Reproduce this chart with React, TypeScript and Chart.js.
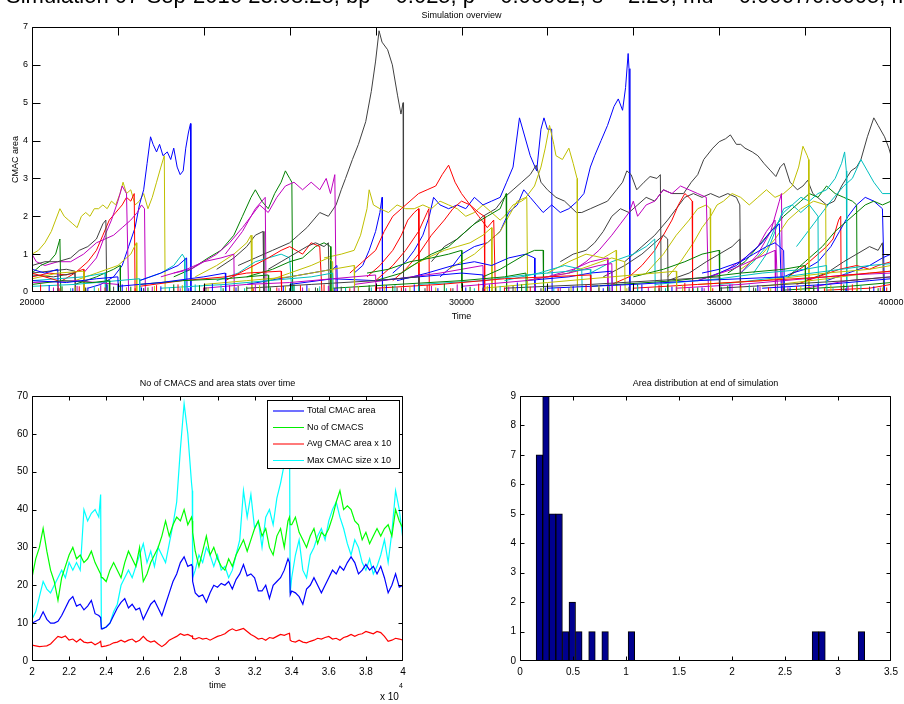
import React, { useEffect, useRef } from 'react';
import { Chart, registerables } from 'chart.js';
Chart.register(...registerables);

const FONT = '"Liberation Sans", Arial, Helvetica, sans-serif';
const W = 904;
const H = 704;

// ---------- colours (MATLAB default line order) ----------
const COL: Record<string, string> = {
  b: '#0000ff', g: '#008000', r: '#ff0000', c: '#00bfbf', m: '#bf00bf', y: '#bfbf00', k: '#404040',
};

// ---------- top panel: CMAC area trajectories [time, area] ----------
const trY1 = [[20000,1.0],[20150,1.1],[20300,1.3],[20450,1.6],[20550,1.9],[20650,2.2],[20750,2.0],[20850,1.9],[20950,1.8],[21050,1.7],[21150,2.0],[21250,2.1],[21350,2.0],[21450,2.2],[21550,2.2],[21650,2.3],[21750,2.2],[21850,2.4],[21950,2.3],[22050,2.6],[22120,2.9],[22200,2.6],[22300,2.7],[22400,2.3],[22500,2.4],[22600,2.6],[22700,2.2],[22800,2.5],[22900,2.9],[23000,3.3],[23080,3.6],[23100,0]];
const trB1 = [[21300,0.1],[21600,0.2],[21900,0.4],[22100,0.7],[22250,1.2],[22400,1.7],[22500,2.3],[22600,2.7],[22680,3.4],[22760,4.1],[22820,3.9],[22900,3.7],[22970,3.9],[23050,3.6],[23150,3.7],[23230,3.5],[23300,3.8],[23380,3.3],[23450,3.1],[23520,3.2],[23580,3.8],[23640,4.2],[23690,4.45],[23700,0]];
const trR1 = [[20700,0.3],[21000,0.5],[21300,0.8],[21500,1.1],[21650,1.5],[21800,1.9],[21950,2.1],[22100,2.3],[22200,2.5],[22300,2.4],[22380,2.6],[22400,0]];
const trM1 = [[20000,1.0],[20100,0.8],[20300,0.7],[20600,0.8],[20900,0.8],[21200,1.0],[21500,1.3],[21700,1.4],[21900,1.5],[22100,1.7],[22300,1.9],[22450,2.1],[22550,2.3],[22620,2.2],[22640,0]];
const trM2 = [[21200,0.5],[21500,0.9],[21700,1.5],[21850,1.9],[22000,2.4],[22100,2.8],[22200,2.6],[22250,0]];
const trK1 = [[20000,0.7],[20300,0.8],[20600,0.8],[20900,0.9],[21100,1.1],[21300,1.2],[21500,1.4],[21650,1.8],[21720,1.9],[21740,0]];
const trG1 = [[20000,0.5],[20200,0.7],[20400,0.8],[20550,1.0],[20650,1.4],[20670,0]];
const trG2 = [[23300,0.4],[23700,0.6],[24100,0.9],[24400,1.1],[24700,1.5],[24900,2.0],[25100,2.5],[25200,2.7],[25350,2.4],[25500,2.2],[25650,2.6],[25800,2.9],[25900,3.2],[26000,3.0],[26050,2.9],[26070,0]];
const trM3 = [[23300,0.5],[23700,0.6],[24000,0.8],[24300,1.0],[24600,1.3],[24900,1.7],[25100,2.0],[25300,2.3],[25500,2.1],[25700,2.5],[25900,2.8],[26100,2.9],[26300,2.7],[26500,2.9],[26700,2.7],[26850,3.0],[26950,2.6],[27050,3.1],[27080,0]];
const trM4 = [[24500,1.0],[24900,1.6],[25200,2.2],[25430,2.5],[25450,0]];
const trK2 = [[24800,0.7],[25200,0.9],[25600,1.1],[26000,1.3],[26200,1.5],[26400,1.7],[26700,2.1],[26900,2.0],[27080,2.3],[27200,2.7],[27300,3.0],[27460,3.5],[27600,3.9],[27770,4.5],[27900,5.3],[28000,6.1],[28080,6.9],[28150,6.6],[28280,6.4],[28390,6.0],[28510,5.2],[28590,4.7],[28640,5.0],[28650,0]];
const trK3 = [[24300,0.6],[24700,0.9],[25000,1.2],[25200,1.5],[25380,1.6],[25400,0]];
const trY2 = [[26800,0.9],[27200,1.0],[27500,1.1],[27650,1.5],[27800,2.2],[27850,2.7],[27950,2.3],[28100,2.2],[28300,2.1],[28500,2.3],[28700,2.2],[28900,2.2],[29100,2.3],[29300,2.2],[29500,2.4],[29700,2.3],[29900,2.2],[30100,2.0],[30300,2.1],[30500,2.3],[30700,2.1],[30900,1.9],[31000,2.0],[31200,2.3],[31400,2.4],[31520,2.5],[31540,0]];
const trY3 = [[29700,0.6],[30000,0.8],[30300,1.0],[30600,1.3],[30900,1.6],[31100,2.0],[31300,2.4],[31500,2.5],[31700,2.8],[31850,3.3],[31950,3.8],[32050,4.4],[32150,3.9],[32200,3.6],[32350,3.5],[32500,3.8],[32600,3.4],[32690,3.0],[32700,0]];
const trB2 = [[28400,0.5],[28700,0.8],[28900,1.1],[29100,1.5],[29250,2.0],[29350,2.5],[29500,2.3],[29700,2.2],[29900,2.3],[30100,2.2],[30300,2.5],[30500,2.3],[30700,2.4],[30900,2.5],[31050,2.9],[31200,3.3],[31350,4.6],[31450,4.2],[31600,3.6],[31750,3.2],[31850,4.3],[31920,4.6],[32000,4.3],[32100,4.3],[32110,0]];
const trB3 = [[27500,0.5],[27700,0.7],[27850,1.1],[28000,1.6],[28100,2.1],[28150,2.5],[28160,0]];
const trB4 = [[29500,0.4],[29800,0.7],[30000,1.0],[30300,1.2],[30600,1.3],[30900,1.6],[31100,2.1],[31300,2.3],[31450,2.7],[31600,2.5],[31750,2.3],[31900,2.1],[32100,2.3],[32300,2.1],[32500,2.2],[32700,2.4],[32850,2.6],[33000,3.3],[33100,3.6],[33250,4.0],[33400,4.4],[33550,4.9],[33650,5.1],[33750,4.8],[33820,5.4],[33880,6.3],[33900,5.9],[33920,0]];
const trK4 = [[29300,0.8],[29600,1.2],[29900,1.4],[30200,1.7],[30500,2.0],[30800,2.2],[31000,2.5],[31200,2.7],[31400,2.9],[31600,3.1],[31740,3.35],[31850,2.9],[32000,2.7],[32200,2.5],[32400,2.4],[32675,2.1],[32800,2.1],[33000,2.2],[33200,2.3],[33400,2.4],[33610,2.7],[33750,2.9],[33850,3.2],[33950,3.1],[34080,2.7],[34250,2.9],[34390,3.05],[34550,3.0],[34630,3.1],[34650,0]];
const trK5 = [[32300,0.8],[32600,1.0],[32900,1.1],[33100,1.3],[33300,1.6],[33500,2.0],[33700,2.2],[33900,2.1],[34100,2.3],[34300,2.5],[34500,2.4],[34700,2.7],[34900,2.6],[35170,2.6],[35350,2.9],[35500,3.1],[35640,3.5],[35850,3.8],[36000,3.97],[36150,4.05],[36260,4.15],[36400,3.9],[36500,3.9],[36600,3.8],[36770,3.7],[36900,3.6],[37040,3.4],[37200,3.2],[37320,3.05],[37420,3.3],[37510,3.4],[37650,2.9],[37820,2.7],[37950,2.8],[38060,2.95],[38180,2.6],[38290,2.5],[38500,2.3],[38680,2.4],[38850,2.8],[39070,3.2],[39200,3.3],[39300,3.5],[39450,4.1],[39600,4.6],[39700,4.4],[39850,4.1],[39950,3.8],[40000,3.6]];
const trK6 = [[33800,0.8],[34200,1.2],[34500,1.5],[34800,1.9],[35000,2.2],[35200,2.5],[35400,2.6],[35600,2.5],[35800,2.6],[36000,2.5],[36200,2.6],[36400,2.5],[36480,2.3],[36500,0]];
const trK7 = [[38000,0.3],[38500,0.5],[38900,0.8],[39200,1.0],[39500,1.2],[39700,1.1],[39800,1.3],[39830,0]];
const trM5 = [[32500,0.5],[32900,0.8],[33200,1.1],[33500,1.5],[33700,1.8],[33900,2.1],[34000,2.4],[34100,2.0],[34300,2.3],[34500,2.4],[34700,2.7],[34900,2.6],[35100,2.8],[35300,2.7],[35500,2.6],[35700,2.5],[35750,0]];
const trR2 = [[33500,0.2],[33900,0.4],[34200,0.7],[34500,1.1],[34700,1.5],[34900,1.9],[35050,2.3],[35200,2.6],[35300,2.5],[35370,2.4],[35380,0]];
const trY4 = [[34800,0.4],[35100,0.8],[35400,1.3],[35600,1.7],[35800,2.0],[35950,2.3],[36100,2.4],[36300,2.6],[36500,2.5],[36700,2.3],[36900,2.5],[37100,2.7],[37300,2.5],[37500,2.6],[37700,2.8],[37850,3.3],[37950,3.85],[38050,3.6],[38080,3.5],[38090,0]];
const trY5 = [[34300,0.5],[34700,1.0],[35000,1.5],[35300,1.9],[35500,2.2],[35700,2.3],[35790,2.2],[35800,0]];
const trC1 = [[36500,0.5],[36800,0.8],[37100,1.2],[37300,1.7],[37500,2.1],[37700,2.3],[37900,2.5],[38100,2.4],[38300,2.6],[38500,2.7],[38700,3.0],[38850,3.4],[38920,3.7],[38960,3.2],[38970,0]];
const trC2 = [[37800,1.2],[38200,1.8],[38600,2.4],[38900,2.8],[39100,3.0],[39300,3.5],[39450,3.2],[39600,2.9],[39800,2.6],[40000,2.6]];
const trG3 = [[36200,0.5],[36600,0.8],[36900,1.2],[37200,1.6],[37500,2.0],[37700,2.2],[37900,2.4],[38100,2.6],[38300,2.5],[38500,2.8],[38700,2.6],[38900,2.5],[39100,2.4],[39200,2.3],[39210,0]];
const trG4 = [[37600,0.4],[38000,0.8],[38400,1.2],[38700,1.6],[39000,1.9],[39200,2.1],[39400,2.3],[39600,2.4],[39800,2.3],[40000,2.4]];
const trB5 = [[37300,0.3],[37700,0.5],[38000,0.6],[38300,0.8],[38600,1.2],[38800,1.6],[39000,2.0],[39200,2.3],[39400,2.5],[39600,2.4],[39800,2.2],[39850,0]];
const trB6 = [[38500,0.3],[39000,0.5],[39500,0.7],[39800,0.9],[40000,1.0]];
const trR3 = [[37600,0.4],[38000,0.7],[38300,1.0],[38500,1.2],[38650,1.4],[38780,1.9],[38830,2.0],[38840,0]];
const trR4 = [[27400,0.5],[27700,0.8],[28000,1.1],[28200,1.6],[28400,2.0],[28600,2.2],[28800,2.4],[29000,2.6],[29200,2.7],[29400,2.8],[29550,3.1],[29700,3.35],[29850,2.9],[30000,2.6],[30200,2.3],[30400,2.0],[30600,1.7],[30750,1.9],[30790,0]];
const trR5 = [[27800,0.4],[28100,0.7],[28400,1.1],[28600,1.5],[28750,1.9],[28900,2.1],[29000,2.2],[29010,0]];
const trR6 = [[28400,0.3],[28700,0.6],[29000,1.0],[29300,1.5],[29600,1.9],[29800,2.2],[30000,2.4],[30200,2.3],[30400,2.1],[30530,2.0],[30540,0]];
const trR7 = [[28000,0.3],[28400,0.7],[28700,1.1],[29000,1.6],[29200,2.1],[29240,2.2],[29250,0]];
const trK8 = [[25500,0.6],[25800,0.8],[26100,1.0],[26400,1.2],[26600,1.3],[26800,1.2],[26900,1.3],[26920,0]];
const trR8 = [[24500,0.3],[25000,0.6],[25500,0.9],[25800,1.1],[26000,1.2],[26300,1.0],[26500,1.3],[26700,1.2],[26750,0]];
const trG5 = [[25000,0.4],[25600,0.6],[26000,0.8],[26300,0.9],[26600,1.2],[26800,1.3],[26950,1.2],[26960,0]];
const trC3 = [[22500,0.3],[23000,0.5],[23300,0.7],[23500,1.0],[23550,0.9],[23560,0]];
const trC4 = [[24300,0.3],[24800,0.5],[25200,0.8],[25500,0.9],[25800,1.0],[26000,0.9],[26050,0]];
const trY6 = [[21000,0.3],[21500,0.5],[22000,0.7],[22300,1.0],[22430,1.3],[22440,0]];
const trY7 = [[23800,0.4],[24300,0.7],[24700,1.0],[25000,1.3],[25100,1.5],[25120,0]];
const trG6 = [[21000,0.2],[21500,0.4],[21900,0.6],[22050,0.7],[22060,0]];
const trG7 = [[28000,0.3],[28600,0.5],[29000,0.8],[29300,1.0],[29700,1.2],[30000,1.5],[30300,1.8],[30600,2.0],[30900,2.2],[31040,2.6],[31050,0]];
const trG8 = [[30500,0.4],[30900,0.6],[31200,0.8],[31500,1.0],[31700,1.1],[31900,1.1],[31910,0]];
const trB7 = [[28500,0.3],[29200,0.5],[29800,0.7],[30300,0.8],[30700,0.7],[31100,0.9],[31500,1.0],[31700,0.9],[31710,0]];
const trY8 = [[28700,0.6],[29200,0.9],[29600,1.1],[29900,1.2],[30200,1.3],[30500,1.5],[30700,1.7],[30710,0]];
const trC5 = [[33000,0.5],[33500,0.8],[34000,1.0],[34300,1.2],[34500,1.4],[34510,0]];
const trK10 = [[33300,0.4],[33800,0.7],[34200,1.0],[34500,1.3],[34700,1.5],[34800,1.4],[34810,0]];
const trK11 = [[34800,0.3],[35300,0.5],[35700,0.8],[36000,1.0],[36300,1.2],[36480,1.4],[36490,0]];
const trB8 = [[35500,0.3],[36000,0.5],[36400,0.7],[36700,1.0],[37000,1.3],[37200,1.6],[37400,1.8],[37450,0]];
const trB9 = [[35600,0.5],[36000,0.6],[36500,0.8],[36800,1.0],[37100,1.2],[37300,1.3],[37500,1.1],[37520,0]];
const trM6 = [[35800,0.4],[36200,0.6],[36600,0.9],[36900,1.2],[37100,1.6],[37300,1.9],[37360,0]];
const trY9 = [[36500,0.6],[37000,1.0],[37300,1.4],[37600,1.9],[37900,2.2],[38200,2.4],[38480,2.3],[38490,0]];
const trC6 = [[36800,0.5],[37100,1.0],[37300,1.6],[37500,2.2],[37700,2.3],[37900,2.1],[38100,2.3],[38300,2.0],[38310,0]];
const trM7 = [[36500,0.5],[36900,1.0],[37200,1.6],[37400,2.4],[37450,2.6],[37470,0]];
const trR9 = [[37800,0.2],[38300,0.4],[38800,0.6],[39200,0.7],[39500,0.6],[39700,0.7],[40000,0.8]];
const trY11 = [[31500,0.3],[32500,0.5],[33000,0.7],[33500,0.9],[33800,0.8],[33810,0]];
const trC7 = [[31000,0.3],[31800,0.5],[32400,0.7],[32800,0.6],[32810,0]];
const trB10 = [[31500,0.3],[32500,0.4],[33000,0.5],[33500,0.55],[33510,0]];
const trM8 = [[32000,0.4],[32600,0.6],[33000,0.8],[33400,0.9],[33410,0]];
const trY12 = [[32000,0.5],[32500,0.8],[32900,1.0],[33300,0.9],[33600,1.1],[33610,0]];
const trG12 = [[34000,0.4],[34700,0.6],[35200,0.8],[35600,1.0],[36000,1.1],[36010,0]];
const trM9 = [[35500,0.3],[36300,0.6],[36900,0.9],[37300,1.1],[37310,0]];
const trB11 = [[20000,0.6],[20300,0.5],[20600,0.6],[20610,0]];
const trR10 = [[20000,0.4],[20400,0.5],[20800,0.45],[21200,0.6],[21210,0]];
const trC10 = [[20000,0.3],[20600,0.35],[21200,0.4],[21700,0.5],[21710,0]];
const trK12 = [[20000,0.5],[20400,0.55],[20800,0.6],[21000,0.55],[21010,0]];
const trB12 = [[22500,0.3],[23000,0.5],[23400,0.7],[23600,0.9],[23610,0]];
const trM10 = [[23000,0.4],[23600,0.6],[24000,0.8],[24400,0.9],[24700,1.0],[24710,0]];
const trY14 = [[25500,0.3],[26000,0.5],[26500,0.7],[26900,0.9],[27000,0.8],[27010,0]];
const trB13 = [[25000,0.2],[26000,0.4],[26500,0.5],[27000,0.6],[27100,0.7],[27110,0]];
const trG15 = [[27800,0.5],[28300,0.6],[28800,0.8],[29300,0.9],[29700,1.0],[30000,1.1],[30010,0]];
const trM11 = [[27500,0.2],[28500,0.35],[29500,0.5],[30000,0.6],[30500,0.7],[30510,0]];
// low-level crowd
const trL1 = [[20000,0.3],[20800,0.25],[21500,0.35],[22000,0.4],[22010,0]];
const trL2 = [[20000,0.2],[20700,0.3],[21400,0.25],[21800,0.3],[21810,0]];
const trL3 = [[20000,0.5],[20300,0.4],[20600,0.3],[20610,0]];
const trL4 = [[20000,0.15],[21000,0.2],[22000,0.3],[22500,0.35],[22510,0]];
const trL5 = [[20000,0.25],[21000,0.3],[22000,0.2],[22010,0]];
const trL6 = [[20000,0.35],[20600,0.5],[21200,0.55],[21210,0]];
const trL7 = [[20000,0.45],[20500,0.4],[21000,0.5],[21010,0]];
const trL8 = [[22000,0.15],[23000,0.25],[24000,0.4],[24500,0.5],[24510,0]];
const trL9 = [[22500,0.2],[23500,0.3],[24500,0.35],[25500,0.45],[25510,0]];
const trL10 = [[22500,0.15],[23500,0.3],[24500,0.4],[25000,0.5],[25800,0.55],[25810,0]];
const trL11 = [[23000,0.1],[24500,0.2],[25500,0.3],[26500,0.4],[27000,0.5],[27010,0]];
const trL12 = [[24000,0.1],[25000,0.2],[26000,0.25],[27000,0.35],[28000,0.45],[28010,0]];
const trL13 = [[24000,0.2],[25000,0.3],[26000,0.4],[27000,0.6],[27500,0.7],[27510,0]];
const trL14 = [[25000,0.1],[26500,0.2],[28000,0.3],[29000,0.4],[29010,0]];
const trL15 = [[26000,0.2],[27000,0.35],[28000,0.3],[29000,0.4],[30000,0.5],[30500,0.45],[30510,0]];
const trL16 = [[27000,0.1],[28500,0.2],[30000,0.3],[31000,0.4],[31500,0.5],[31510,0]];
const trL17 = [[28000,0.1],[29500,0.2],[31000,0.35],[32000,0.4],[33000,0.45],[33010,0]];
const trL18 = [[29000,0.2],[30500,0.3],[31500,0.45],[32500,0.55],[33000,0.6],[33010,0]];
const trL19 = [[30000,0.15],[31500,0.3],[32500,0.5],[33200,0.7],[33500,0.75],[33510,0]];
const trL20 = [[30500,0.1],[32000,0.25],[33500,0.4],[34500,0.5],[35000,0.55],[35010,0]];
const trL21 = [[31000,0.1],[33000,0.2],[34500,0.3],[36000,0.4],[36010,0]];
const trL22 = [[32000,0.1],[34000,0.2],[35500,0.3],[36500,0.35],[37500,0.4],[37510,0]];
const trL23 = [[33000,0.15],[35000,0.3],[36500,0.5],[37500,0.6],[38000,0.7],[38010,0]];
const trL24 = [[34000,0.1],[35500,0.2],[37000,0.3],[38500,0.4],[39500,0.5],[40000,0.55]];
const trL25 = [[34500,0.2],[36000,0.35],[37000,0.5],[38000,0.6],[38500,0.7],[38510,0]];
const trL26 = [[35000,0.1],[36500,0.2],[38000,0.35],[39000,0.45],[40000,0.5]];
const trL27 = [[35500,0.2],[37000,0.3],[38500,0.5],[39500,0.6],[40000,0.7]];
const trL28 = [[36000,0.1],[37500,0.2],[39000,0.3],[40000,0.4]];
const trL29 = [[37000,0.1],[38500,0.2],[39500,0.3],[40000,0.35]];
const trL30 = [[37500,0.05],[39000,0.15],[40000,0.25]];
const trL31 = [[38500,0.05],[39500,0.1],[40000,0.2]];
const trL32 = [[36000,0.2],[37500,0.4],[38500,0.55],[39500,0.7],[40000,0.75]];
const trL33 = [[38000,0.1],[39000,0.3],[40000,0.4]];
const trL34 = [[37000,0.15],[38500,0.35],[39500,0.5],[40000,0.55]];

const topTracks = [
  trL1, trL2, trL3, trL4, trL5, trL6, trL7, trL8, trL9, trL10, trL11, trL12, trL13, trL14, trL15, trL16, trL17,
  trL18, trL19, trL20, trL21, trL22, trL23, trL24, trL25, trL26, trL27, trL28, trL29, trL30, trL31, trL32, trL33, trL34,
  trB11, trR10, trC10, trK12, trB12, trM10, trY14, trB13, trG15, trM11, trY11, trC7, trB10, trM8, trY12, trG12, trM9,
  trC5, trK10, trK11, trB8, trB9, trM6, trY9, trC6, trM7, trR9, trK8, trR8, trG5, trC3, trC4, trY6, trY7, trG6, trG7,
  trG8, trB7, trY8, trR4, trR5, trR6, trR7, trK7, trM5, trR2, trY4, trY5, trC1, trC2, trG3, trG4, trB5, trB6, trR3,
  trY2, trY3, trB3, trK3, trK4, trK5, trK6, trB2, trB4, trM4, trM3, trG2, trK2, trK1, trG1, trM2, trM1, trR1, trB1, trY1,
];
const topTrackColors = [
  'b', 'g', 'r', 'c', 'm', 'y', 'k', 'b', 'g', 'r', 'c', 'm', 'y', 'k', 'b', 'g', 'r',
  'c', 'm', 'y', 'k', 'b', 'g', 'r', 'c', 'm', 'y', 'k', 'b', 'g', 'r', 'c', 'm', 'y',
  'b', 'r', 'c', 'k', 'b', 'm', 'y', 'b', 'g', 'm', 'y', 'c', 'b', 'm', 'y', 'g', 'm',
  'c', 'k', 'k', 'b', 'b', 'm', 'y', 'c', 'm', 'r', 'k', 'r', 'g', 'c', 'c', 'y', 'y', 'g', 'g',
  'g', 'b', 'y', 'r', 'r', 'r', 'r', 'k', 'm', 'r', 'y', 'y', 'c', 'c', 'g', 'g', 'b', 'b', 'r',
  'y', 'y', 'b', 'k', 'k', 'k', 'k', 'b', 'b', 'm', 'm', 'g', 'k', 'k', 'g', 'm', 'm', 'r', 'b', 'y',
];

// tiny short-lived CMACs along the baseline [time, area]
const spikesB = [[20400,0.18],[20950,0.1],[21300,0.12],[21750,0.2],[22100,0.2],[22550,0.12],[23000,0.15],[23650,0.1],[24200,0.22],[24750,0.12],[25300,0.1],[25850,0.16],[26400,0.18],[27050,0.1],[27600,0.14],[28250,0.18],[28900,0.2],[29450,0.1],[30100,0.12],[30650,0.2],[31300,0.25],[31950,0.12],[32600,0.15],[33300,0.1],[34200,0.2],[34900,0.14],[35600,0.12],[36250,0.2],[36900,0.18],[37650,0.12],[38300,0.22],[38950,0.1],[39600,0.15]];
const spikesG = [[20700,0.15],[21250,0.1],[21800,0.2],[22300,0.14],[22700,0.12],[23300,0.2],[23900,0.18],[24450,0.1],[25000,0.14],[25550,0.12],[26100,0.2],[26650,0.1],[27300,0.1],[27850,0.18],[28400,0.16],[29000,0.1],[29600,0.22],[30200,0.14],[30800,0.12],[31400,0.2],[32000,0.18],[32700,0.1],[33400,0.14],[34100,0.2],[34800,0.2],[35500,0.12],[36200,0.16],[36850,0.1],[37500,0.12],[38200,0.18],[38900,0.2],[39700,0.1]];
const spikesR = [[20200,0.2],[20650,0.1],[21100,0.15],[21700,0.12],[22400,0.1],[22900,0.18],[23400,0.2],[24000,0.12],[24600,0.16],[25150,0.1],[25700,0.12],[26250,0.18],[26800,0.2],[27400,0.1],[28000,0.15],[28600,0.12],[29200,0.18],[29750,0.1],[30400,0.22],[31000,0.12],[31600,0.14],[32250,0.1],[32900,0.2],[33450,0.12],[34000,0.12],[34600,0.18],[35200,0.24],[35850,0.1],[36500,0.18],[37150,0.12],[37800,0.15],[38450,0.1],[39100,0.2],[39900,0.12]];
const spikesC = [[20900,0.1],[21450,0.16],[22000,0.15],[22600,0.1],[23200,0.12],[23800,0.2],[24400,0.18],[24950,0.1],[25500,0.1],[26100,0.16],[26700,0.15],[27300,0.12],[27900,0.12],[28450,0.18],[29000,0.16],[29650,0.1],[30300,0.1],[30900,0.16],[31500,0.2],[32150,0.12],[32800,0.12],[33450,0.16],[34100,0.16],[34750,0.1],[35400,0.1],[36050,0.14],[36700,0.2],[37350,0.12],[38000,0.14],[38650,0.1],[39300,0.18]];
const spikesM = [[20500,0.12],[21050,0.16],[21600,0.18],[22200,0.12],[22800,0.14],[23450,0.1],[24000,0.1],[24600,0.18],[25200,0.2],[25750,0.1],[26300,0.12],[26900,0.16],[27500,0.16],[28100,0.12],[28700,0.1],[29300,0.16],[29900,0.2],[30500,0.1],[31100,0.14],[31700,0.18],[32300,0.12],[33000,0.14],[33700,0.18],[34350,0.12],[35000,0.14],[35650,0.1],[36300,0.2],[36950,0.14],[37600,0.12],[38300,0.16],[39000,0.16],[39750,0.12]];
const spikesY = [[21000,0.14],[21550,0.1],[22200,0.1],[22850,0.16],[23500,0.18],[24100,0.12],[24700,0.12],[25300,0.18],[25900,0.16],[26450,0.1],[27000,0.1],[27600,0.16],[28200,0.2],[28800,0.14],[29400,0.12],[30000,0.1],[30600,0.16],[31250,0.12],[31900,0.1],[32550,0.16],[33200,0.18],[33850,0.1],[34500,0.12],[35150,0.18],[35800,0.16],[36500,0.12],[37200,0.1],[37900,0.16],[38600,0.18],[39200,0.1],[39800,0.12]];
const spikesK = [[20600,0.1],[21250,0.12],[21900,0.14],[22600,0.1],[23300,0.1],[24050,0.12],[24800,0.16],[25400,0.1],[26000,0.1],[26600,0.12],[27200,0.14],[27850,0.1],[28500,0.12],[29150,0.1],[29800,0.1],[30500,0.12],[31200,0.16],[31850,0.1],[32500,0.1],[33200,0.12],[33900,0.14],[34600,0.1],[35300,0.1],[36050,0.12],[36800,0.12],[37500,0.1],[38200,0.1],[38850,0.12],[39500,0.14]];
const spikeSets = [spikesB, spikesG, spikesR, spikesC, spikesM, spikesY, spikesK];
const spikeColors = ['b', 'g', 'r', 'c', 'm', 'y', 'k'];

const topXTicks = [20000, 22000, 24000, 26000, 28000, 30000, 32000, 34000, 36000, 38000, 40000];
const topXLabels = ['20000', '22000', '24000', '26000', '28000', '30000', '32000', '34000', '36000', '38000', '40000'];
const topYTicks = [0, 1, 2, 3, 4, 5, 6, 7];
const topYLabels = ['0', '1', '2', '3', '4', '5', '6', '7'];

// ---------- bottom-left: stats over time (time in units of 10^4) ----------
const tStats = [
  2.00, 2.02, 2.04, 2.06, 2.08, 2.10, 2.12, 2.14, 2.16, 2.18,
  2.20, 2.22, 2.24, 2.26, 2.28, 2.30, 2.32, 2.34, 2.36, 2.37,
  2.374, 2.38, 2.40, 2.42, 2.44, 2.46, 2.48, 2.50, 2.52, 2.54,
  2.56, 2.58, 2.60, 2.62, 2.64, 2.66, 2.68, 2.70, 2.72, 2.74,
  2.76, 2.78, 2.80, 2.82, 2.84, 2.86, 2.864, 2.866, 2.88, 2.90,
  2.92, 2.94, 2.96, 2.98, 3.00, 3.02, 3.04, 3.06, 3.08, 3.10,
  3.12, 3.14, 3.16, 3.18, 3.20, 3.22, 3.24, 3.26, 3.28, 3.30,
  3.32, 3.34, 3.36, 3.38, 3.388, 3.392, 3.40, 3.42, 3.44, 3.46,
  3.48, 3.50, 3.52, 3.54, 3.56, 3.58, 3.60, 3.62, 3.64, 3.66,
  3.68, 3.70, 3.72, 3.74, 3.76, 3.78, 3.80, 3.82, 3.84, 3.86,
  3.88, 3.90, 3.92, 3.94, 3.96, 3.98, 4.00,
];
const totalArea = [
  10, 10.5, 11, 13, 11, 10, 10, 10.5, 12, 14,
  16, 17, 14.5, 15, 13.5, 14.5, 16, 12.5, 12, 11.5,
  8.5, 8.5, 9, 10, 12, 14, 15.5, 16.5, 14, 15,
  13.5, 14, 11, 13, 15, 16, 14, 12, 15, 18,
  21, 23, 26, 27.5, 25, 25.5, 25, 21, 18, 17,
  17.5, 15.5, 18, 20, 19.5, 20.5, 20, 21, 19, 21.5,
  23, 25.5, 22.5, 23, 22, 18.5, 18.5, 20, 16.5, 20,
  21, 22, 24, 27, 26, 17.5, 18.5, 18, 17, 15,
  19, 20, 22, 20, 18, 20, 22, 24, 23, 25,
  24, 26, 27.5, 26, 23, 24, 25.5, 24, 25, 23,
  25, 22, 18, 20, 23, 19.5, 20,
];
const numCmacs = [
  22, 27, 30, 35, 29, 24, 21, 16, 22, 25,
  28, 30, 27, 28, 26, 27, 29, 26, 24, 23,
  22, 22, 21, 24, 26, 24, 22, 26, 29, 27,
  25, 30, 21, 23, 26, 28, 30, 33, 37, 33,
  36, 38, 37, 40, 36, 38, 37, 34, 29, 25,
  29, 33, 28, 30, 27, 25, 24, 27, 25, 28,
  30, 32, 29, 32, 35, 37, 33, 35, 30, 28,
  33, 35, 30, 37, 38, 36, 36, 38, 34, 32,
  30, 33, 35, 31, 34, 33, 35, 38, 42, 45,
  40, 41, 40, 37, 36, 32, 34, 31, 33, 35,
  33, 35, 36, 33, 40, 37, 35,
];
const avgArea10 = [
  4.2, 4.0, 3.8, 3.9, 4.0, 4.5, 5.5, 6.5, 6.2, 6.6,
  5.5, 5.8, 5.0, 5.8, 5.0, 4.8, 5.0, 4.3, 4.8, 5.2,
  3.8, 3.8, 4.0, 4.3, 4.8, 5.0, 5.5, 5.0, 5.5, 5.8,
  5.0, 5.5, 6.5, 5.5, 5.0, 5.3, 4.5, 3.8, 4.5, 5.5,
  6.0, 6.5, 7.2, 6.8, 7.0, 6.5, 6.6, 6.0, 5.8, 6.2,
  5.8, 6.0, 5.5, 6.0, 6.5, 6.8, 7.2, 8.0, 8.5, 8.0,
  8.3, 8.6, 7.8, 7.0, 6.5, 5.8, 6.0, 5.5, 6.2, 6.0,
  6.5, 7.0, 6.8, 7.2, 7.3, 5.5, 5.2, 5.0, 5.5, 5.0,
  4.8, 5.2, 5.5, 6.0, 5.8, 6.2, 6.5, 5.8, 6.0, 5.5,
  6.2, 6.5, 7.0, 6.5, 7.0, 7.2, 7.8, 7.5, 7.2, 7.8,
  7.5, 6.5, 5.2, 5.5, 6.0, 5.8, 5.5,
];
const maxSize10 = [
  11, 13, 17, 21, 19, 18, 20, 22, 24, 22,
  26, 24, 26, 24, 40, 37, 39, 40, 38, 44,
  9, 8.5, 9, 10, 13, 15, 20, 22, 24, 22,
  25, 28, 31, 26, 29, 25, 30, 28, 26, 31,
  36, 42, 56, 68, 60, 47, 45, 22, 24, 28,
  26, 30, 28, 25, 28, 24, 25, 22, 24, 28,
  32, 45, 38, 44, 35, 37, 30, 38, 40, 36,
  43, 47, 52, 60, 63, 18, 22, 28, 32, 24,
  22, 28, 30, 33, 35, 32, 37, 40, 42, 38,
  35, 31, 28, 32, 30, 26, 24, 27, 23, 25,
  28, 32, 26, 34, 45, 40, 32,
];
const statsNames = ['Total CMAC area', 'No of CMACS', 'Avg CMAC area x 10', 'Max CMAC size x 10'];
const statsColors = ['#0000ff', '#00ff00', '#ff0000', '#00ffff'];
const blXTicks = [2, 2.2, 2.4, 2.6, 2.8, 3, 3.2, 3.4, 3.6, 3.8, 4];
const blXLabels = ['2', '2.2', '2.4', '2.6', '2.8', '3', '3.2', '3.4', '3.6', '3.8', '4'];
const blYTicks = [0, 10, 20, 30, 40, 50, 60, 70];
const blYLabels = ['0', '10', '20', '30', '40', '50', '60', '70'];

// ---------- bottom-right: histogram of final areas ----------
const histCenters = [0.183, 0.245, 0.307, 0.369, 0.431, 0.493, 0.555, 0.679, 0.803, 1.051, 2.787, 2.849, 3.221];
const histCounts = [7, 9, 5, 5, 1, 2, 1, 1, 1, 1, 1, 1, 1];
const brXTicks = [0, 0.5, 1, 1.5, 2, 2.5, 3, 3.5];
const brXLabels = ['0', '0.5', '1', '1.5', '2', '2.5', '3', '3.5'];
const brYTicks = [0, 1, 2, 3, 4, 5, 6, 7, 8, 9];
const brYLabels = ['0', '1', '2', '3', '4', '5', '6', '7', '8', '9'];

const SUPER_TITLE = 'Simulation 07-Sep-2016 23:08:28, bp = 0.025, p = 0.00002, s = 2.20, mu = 0.0067/0.0005, max = 40';

// ---------- drawing helpers ----------
type AxCfg = {
  key: string;
  xTicks: number[]; xLabels: string[]; yTicks: number[]; yLabels: string[];
  tickLen: number; tickFont: number; xGap: number; yGap: number;
  title: string; titleY: number; titleFont: number;
  xTitle: string; xTitleY: number; yTitle?: string; yTitleX?: number;
  extra?: (ctx: CanvasRenderingContext2D, a: any) => void;
};

function makeAxes(cfg: AxCfg) {
  return {
    id: 'maxes' + cfg.key,
    afterDraw(chart: any) {
      const ctx: CanvasRenderingContext2D = chart.ctx;
      const a = chart.chartArea;
      const xs = chart.scales.x;
      const ys = chart.scales.y;
      const L = Math.round(a.left) + 0.5;
      const T = Math.round(a.top) + 0.5;
      const Rr = Math.round(a.right) - 0.5;
      const Bt = Math.round(a.bottom) - 0.5;
      ctx.save();
      ctx.strokeStyle = '#000';
      ctx.lineWidth = 1;
      ctx.beginPath();
      ctx.rect(L, T, Rr - L, Bt - T);
      ctx.stroke();
      ctx.fillStyle = '#000';
      ctx.font = `${cfg.tickFont}px ${FONT}`;
      ctx.textAlign = 'center';
      ctx.textBaseline = 'top';
      cfg.xTicks.forEach((v, i) => {
        const px = Math.min(Rr, Math.max(L, Math.round(xs.getPixelForValue(v)) + 0.5));
        ctx.beginPath();
        ctx.moveTo(px, Bt); ctx.lineTo(px, Bt - cfg.tickLen);
        ctx.moveTo(px, T); ctx.lineTo(px, T + cfg.tickLen);
        ctx.stroke();
        ctx.fillText(cfg.xLabels[i], xs.getPixelForValue(v), a.bottom + cfg.xGap);
      });
      ctx.textAlign = 'right';
      ctx.textBaseline = 'middle';
      cfg.yTicks.forEach((v, i) => {
        const py = Math.min(Bt, Math.max(T, Math.round(ys.getPixelForValue(v)) + 0.5));
        ctx.beginPath();
        ctx.moveTo(L, py); ctx.lineTo(L + cfg.tickLen, py);
        ctx.moveTo(Rr, py); ctx.lineTo(Rr - cfg.tickLen, py);
        ctx.stroke();
        ctx.fillText(cfg.yLabels[i], a.left - cfg.yGap, ys.getPixelForValue(v));
      });
      const cx = (a.left + a.right) / 2;
      ctx.textAlign = 'center';
      ctx.font = `${cfg.titleFont}px ${FONT}`;
      ctx.fillText(cfg.title, cx, cfg.titleY);
      ctx.fillText(cfg.xTitle, cx, cfg.xTitleY);
      if (cfg.yTitle) {
        ctx.save();
        ctx.translate(cfg.yTitleX || 0, (a.top + a.bottom) / 2);
        ctx.rotate(-Math.PI / 2);
        ctx.fillText(cfg.yTitle, 0, 0);
        ctx.restore();
      }
      if (cfg.extra) cfg.extra(ctx, a);
      ctx.restore();
    },
  };
}

function baseOptions(pad: any, xmin: number, xmax: number, ymin: number, ymax: number, bar = false) {
  return {
    responsive: false,
    maintainAspectRatio: false,
    animation: false,
    devicePixelRatio: 1,
    events: [],
    layout: { padding: pad },
    elements: { point: { radius: 0 }, line: { borderWidth: 1, tension: 0 } },
    plugins: { legend: { display: false }, tooltip: { enabled: false }, title: { display: false } },
    scales: {
      x: { type: 'linear', min: xmin, max: xmax, display: false, offset: false, grid: { offset: false } },
      y: { type: 'linear', min: ymin, max: ymax, display: false, beginAtZero: bar },
    },
  } as any;
}

function topConfig() {
  const datasets: any[] = topTracks.map((tr, i) => ({
    data: tr.map(([x, y]) => ({ x, y })),
    borderColor: COL[topTrackColors[i]],
    borderWidth: 1,
    pointRadius: 0,
    fill: false,
  }));
  spikeSets.forEach((set, i) => {
    const pts: any[] = [];
    set.forEach(([t, h]) => {
      pts.push({ x: t, y: 0 }, { x: t, y: h }, { x: t, y: null });
    });
    datasets.unshift({ data: pts, borderColor: COL[spikeColors[i]], borderWidth: 1, pointRadius: 0, fill: false, spanGaps: false });
  });
  return {
    type: 'line',
    data: { datasets },
    options: baseOptions({ left: 32, right: W - 891, top: 27, bottom: H - 292 }, 20000, 40000, 0, 7),
    plugins: [
      makeAxes({
        key: 'top', xTicks: topXTicks, xLabels: topXLabels, yTicks: topYTicks, yLabels: topYLabels,
        tickLen: 8, tickFont: 9, xGap: 6, yGap: 4,
        title: 'Simulation overview', titleY: 16, titleFont: 9,
        xTitle: 'Time', xTitleY: 317, yTitle: 'CMAC area', yTitleX: 16,
        extra: (ctx) => {
          ctx.textAlign = 'left';
          ctx.textBaseline = 'alphabetic';
          ctx.font = `22px ${FONT}`;
          ctx.fillText(SUPER_TITLE, 6, 3);
        },
      }),
    ],
  } as any;
}

function blConfig() {
  const series = [totalArea, numCmacs, avgArea10, maxSize10];
  const datasets = series.map((s, i) => ({
    label: statsNames[i],
    data: s.map((v, j) => ({ x: tStats[j], y: v })),
    borderColor: statsColors[i],
    borderWidth: 1.2,
    pointRadius: 0,
    fill: false,
  }));
  return {
    type: 'line',
    data: { datasets },
    options: baseOptions({ left: 32, right: W - 403, top: 396, bottom: H - 661 }, 2, 4, 0, 70),
    plugins: [
      makeAxes({
        key: 'bl', xTicks: blXTicks, xLabels: blXLabels, yTicks: blYTicks, yLabels: blYLabels,
        tickLen: 4, tickFont: 10, xGap: 6, yGap: 4,
        title: 'No of CMACS and area stats over time', titleY: 384, titleFont: 9,
        xTitle: 'time', xTitleY: 686,
        extra: (ctx) => {
          // x10^4 multiplier
          ctx.font = `10px ${FONT}`;
          ctx.textAlign = 'left';
          ctx.fillText('x 10', 380, 697);
          ctx.font = `7px ${FONT}`;
          ctx.fillText('4', 399, 686);
          // legend
          const lx = 267.5, ly = 400.5, lw = 132, lh = 68;
          ctx.fillStyle = '#fff';
          ctx.fillRect(lx, ly, lw, lh);
          ctx.strokeStyle = '#000';
          ctx.lineWidth = 1;
          ctx.strokeRect(lx, ly, lw, lh);
          const rows = [411, 427.5, 444, 460.5];
          const lws = [2, 1, 2, 1];
          const lcols = ['#7070ff', '#00ee00', '#ff7a7a', '#00ffff'];
          ctx.font = `9px ${FONT}`;
          ctx.textBaseline = 'middle';
          statsNames.forEach((n, i) => {
            ctx.strokeStyle = lcols[i];
            ctx.lineWidth = lws[i];
            ctx.beginPath();
            ctx.moveTo(273, rows[i]);
            ctx.lineTo(304, rows[i]);
            ctx.stroke();
            ctx.fillStyle = '#000';
            ctx.fillText(n, 307, rows[i]);
          });
        },
      }),
    ],
  } as any;
}

function brConfig() {
  return {
    type: 'bar',
    data: {
      datasets: [{
        data: histCenters.map((x, i) => ({ x, y: histCounts[i] })),
        backgroundColor: '#00008f',
        borderColor: '#000',
        borderWidth: 1,
        borderSkipped: false,
        barPercentage: 1,
        categoryPercentage: 1,
      }],
    },
    options: baseOptions({ left: 520, right: W - 891, top: 396, bottom: H - 661 }, 0, 3.5, 0, 9, true),
    plugins: [
      makeAxes({
        key: 'br', xTicks: brXTicks, xLabels: brXLabels, yTicks: brYTicks, yLabels: brYLabels,
        tickLen: 4, tickFont: 10, xGap: 6, yGap: 4,
        title: 'Area distribution at end of simulation', titleY: 384, titleFont: 9,
        xTitle: '', xTitleY: 686,
      }),
    ],
  } as any;
}

export default function App() {
  const topRef = useRef<HTMLCanvasElement>(null);
  const blRef = useRef<HTMLCanvasElement>(null);
  const brRef = useRef<HTMLCanvasElement>(null);

  useEffect(() => {
    const charts: Chart[] = [];
    if (topRef.current) charts.push(new Chart(topRef.current, topConfig()));
    if (blRef.current) charts.push(new Chart(blRef.current, blConfig()));
    if (brRef.current) charts.push(new Chart(brRef.current, brConfig()));
    return () => charts.forEach((c) => c.destroy());
  }, []);

  const cs: React.CSSProperties = { position: 'absolute', left: 0, top: 0, width: W, height: H };
  return (
    <div style={{ position: 'fixed', left: 0, top: 0, width: W, height: H, background: '#fff', overflow: 'hidden' }}>
      <canvas ref={topRef} width={W} height={H} style={cs} />
      <canvas ref={blRef} width={W} height={H} style={cs} />
      <canvas ref={brRef} width={W} height={H} style={cs} />
    </div>
  );
}
